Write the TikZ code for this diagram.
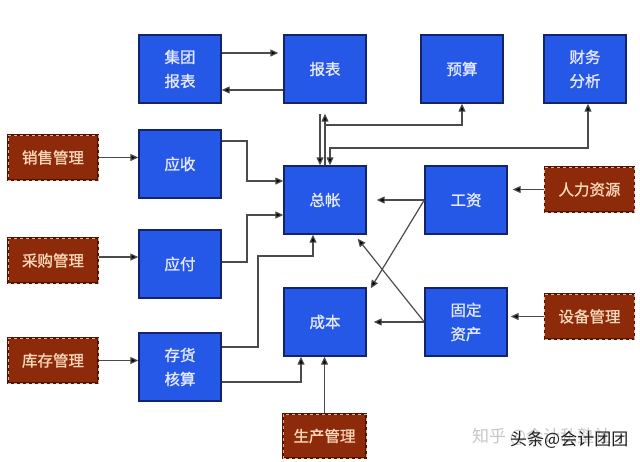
\documentclass[tikz,border=0pt]{standalone}
\usepackage{fontspec}
\newfontfamily\cjk{Noto Sans CJK SC}
\newfontfamily\cjkb[FakeBold=1.2]{Noto Sans CJK SC}
\usetikzlibrary{arrows.meta}
\definecolor{boxblue}{RGB}{38,88,232}
\definecolor{boxline}{RGB}{20,35,110}
\definecolor{boxtext}{RGB}{228,232,255}
\definecolor{brownfill}{RGB}{140,42,10}
\definecolor{brownline}{RGB}{80,20,5}
\definecolor{browntext}{RGB}{250,215,185}
\definecolor{connline}{RGB}{75,75,75}
\tikzset{
  bluebox/.style={draw=boxline, line width=1.4pt, fill=boxblue, text=boxtext,
    minimum width=82pt, minimum height=68pt, inner sep=0pt, align=center,
    font=\cjkb\fontsize{15.5}{24}\selectfont},
  brownbox/.style={draw=brownline, line width=1.6pt, fill=brownfill, text=browntext,
    minimum width=90pt, minimum height=45pt, inner sep=0pt,
    font=\cjkb\fontsize{15.5}{18}\selectfont,
    postaction={draw=browntext!80!brownfill, line width=0.9pt, dash pattern=on 3pt off 3pt}},
  arr/.style={draw=connline, line width=1.2pt, -{Triangle[length=8pt,width=7pt,fill=black]}},
  dbl/.style={draw=connline, line width=1.2pt, {Triangle[length=8pt,width=7pt,fill=black]}-{Triangle[length=8pt,width=7pt,fill=black]}}
}
\begin{document}
\begin{tikzpicture}[x=1pt,y=-1pt]
\useasboundingbox[fill=white] (0,0) rectangle (640,461);
% blue boxes
\node[bluebox] (jt) at (180,69) {集团\\报表};
\node[bluebox] (bb) at (325,69) {报表};
\node[bluebox] (ys) at (462,69) {预算};
\node[bluebox] (cw) at (585,69) {财务\\分析};
\node[bluebox] (yss) at (180,164) {应收};
\node[bluebox] (yf) at (180,264) {应付};
\node[bluebox] (ch) at (180,367) {存货\\核算};
\node[bluebox] (zz) at (325,200) {总帐};
\node[bluebox] (cb) at (325,322) {成本};
\node[bluebox] (gz) at (466,200) {工资};
\node[bluebox] (gd) at (466,322) {固定\\资产};
% brown boxes
\node[brownbox] (xs) at (53,157.5) {销售管理};
\node[brownbox] (cg) at (53,260.5) {采购管理};
\node[brownbox] (kc) at (53,360.5) {库存管理};
\node[brownbox] (rl) at (589.5,189.5) {人力资源};
\node[brownbox] (sb) at (589.5,316.5) {设备管理};
\node[brownbox, minimum width=83pt, minimum height=44pt] (sc) at (324.5,436) {生产管理};
% connectors
\draw[arr, shorten >=5pt] (jt.east |- 0,53) -- (bb.west |- 0,53);
\draw[arr] (bb.west |- 0,90) -- (jt.east |- 0,90);
\draw[arr] (xs.east) -- (yss.west |- xs.east);
\draw[arr] (cg.east |- 0,257) -- (yf.west |- 0,257);
\draw[arr] (kc.east) -- (ch.west |- kc.east);
\draw[arr] (yss.east |- 0,141) -| (247,181) -- (zz.west |- 0,181);
\draw[arr] (yf.east |- 0,262) -| (247,215) -- (zz.west |- 0,215);
\draw[arr] (ch.east |- 0,347) -| (258,256) -| ([xshift=-12pt]zz.south);
\draw[arr] (ch.east |- 0,382) -| ([xshift=-24pt]cb.south);
\draw[arr] (sc.north) -- (sc.north |- cb.south);
\draw[arr, shorten >=10pt] (gz.west) -- (zz.east);
\draw[arr] (gz.west) -- ([xshift=4pt,yshift=-1pt]cb.north east);
\draw[arr] (gd.west) -- ([xshift=-9pt,yshift=-4pt]zz.south east);
\draw[arr, shorten >=7pt] (gd.west) -- (cb.east);
\draw[arr, shorten >=5pt] (rl.west) -- (gz.east |- rl.west);
\draw[arr, shorten >=3pt] (sb.west) -- (gd.east |- sb.west);
\draw[arr, shorten <=10pt] ([xshift=-5pt]bb.south) -- ([xshift=-5pt]zz.north);
\draw[arr, shorten >=10pt] (zz.north) -- (bb.south);
\draw[arr] (zz.north) |- (ys.south |- 0,125) -- (ys.south);
\draw[dbl] ([xshift=5pt]zz.north) |- ([xshift=3pt]cw.south |- 0,148) -- ([xshift=3pt]cw.south);
% watermark
\node[anchor=west, text=black!22, font=\cjk\fontsize{17}{20}\selectfont, inner sep=0pt] (wm1) at (472,437) {知乎 @会计私塾社};
\node[anchor=west, text=black!88, font=\cjk\fontsize{17}{20}\selectfont, inner sep=0pt] (wm2) at (510,440) {头条@会计团团};
\end{tikzpicture}
\end{document}
